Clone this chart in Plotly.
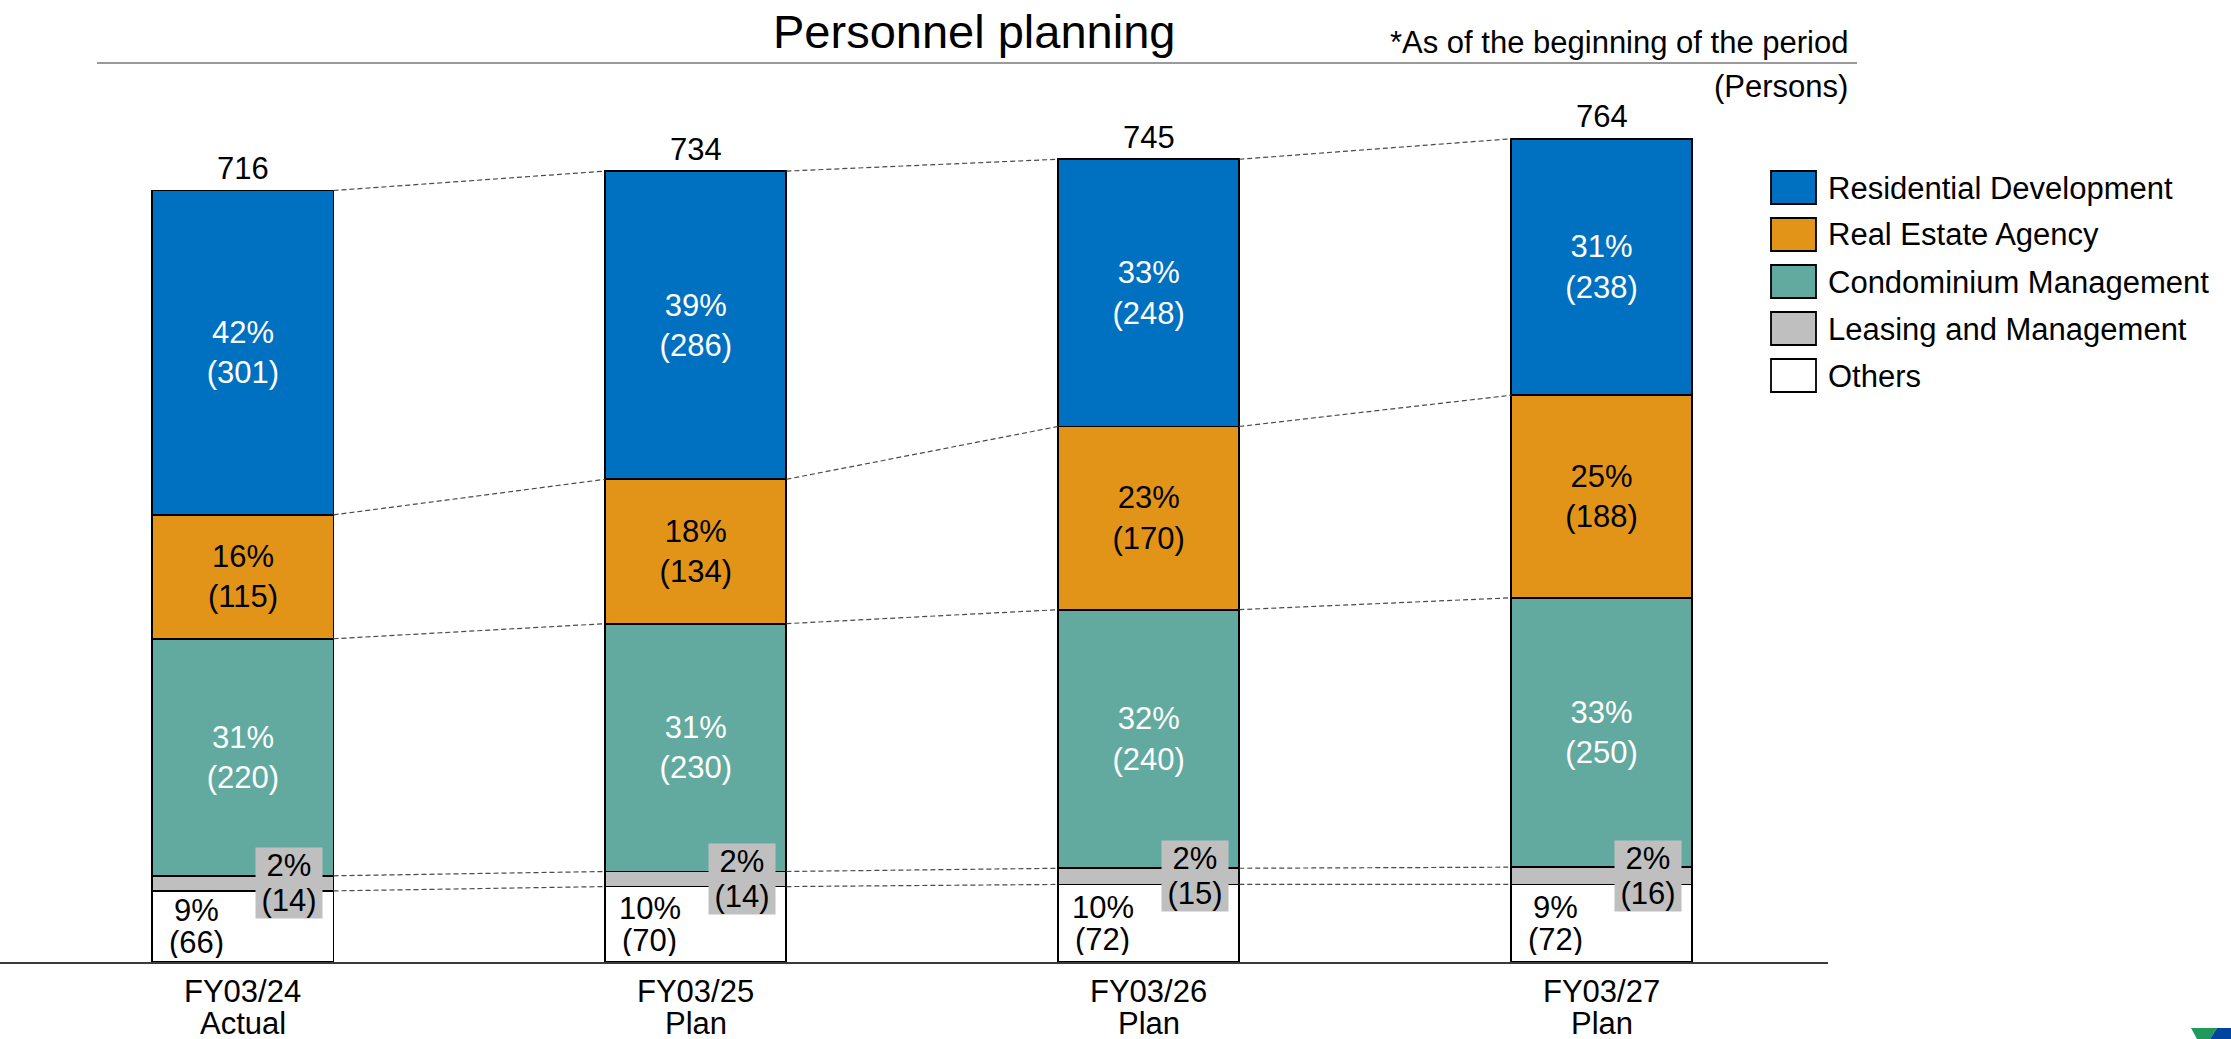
import plotly.graph_objects as go

# ---- data -------------------------------------------------------------
periods = ["FY03/24", "FY03/25", "FY03/26", "FY03/27"]
statuses = ["Actual", "Plan", "Plan", "Plan"]

segment_names = [
    "Residential Development",
    "Real Estate Agency",
    "Condominium Management",
    "Leasing and Management",
    "Others",
]
residential = [301, 286, 248, 238]
real_estate = [115, 134, 170, 188]
condominium = [220, 230, 240, 250]
leasing = [14, 14, 15, 16]
others = [66, 70, 72, 72]

# ---- styling ------------------------------------------------------------
FONT = "Liberation Sans, Arial, sans-serif"
FS = 31
W, H = 2231, 1039
ML, MR, MT, MB = 0, 403, 100, 77
PW, PH = W - ML - MR, H - MT - MB
BAR_W = 0.4
X_RANGE = [-0.5364, 3.5]
Y_RANGE = [0, 800]

seg_colors = {
    "Residential Development": "#0070C0",
    "Real Estate Agency": "#E29419",
    "Condominium Management": "#62AAA0",
    "Leasing and Management": "#BFBFBF",
    "Others": "#FFFFFF",
}
text_colors = {
    "Residential Development": "white",
    "Real Estate Agency": "black",
    "Condominium Management": "white",
}

series = {
    "Residential Development": residential,
    "Real Estate Agency": real_estate,
    "Condominium Management": condominium,
    "Leasing and Management": leasing,
    "Others": others,
}
stack_order = list(reversed(segment_names))  # bottom to top
xs = list(range(len(periods)))
totals = [sum(series[n][i] for n in segment_names) for i in xs]


def px_to_paper_x(px):
    return (px - ML) / PW


def px_to_paper_y(py):
    return (H - MB - py) / PH


fig = go.Figure()

# stacked bars
for name in stack_order:
    vals = series[name]
    pct = [round(v / t * 100) for v, t in zip(vals, totals)]
    labelled = name in text_colors
    fig.add_trace(go.Bar(
        x=xs, y=vals, name=name, width=BAR_W,
        marker=dict(color=seg_colors[name], line=dict(color="black", width=1.8)),
        text=[f"{p}%<br>({v})" for p, v in zip(pct, vals)] if labelled else None,
        textposition="inside" if labelled else "none",
        insidetextanchor="middle",
        textangle=0,
        textfont=dict(family=FONT, size=FS, color=text_colors.get(name, "black")),
        showlegend=False,
        hoverinfo="skip",
    ))

# dashed connectors between neighbouring bars at every segment boundary
cx, cy = [], []
levels = []
for i in xs:
    acc, row = 0, []
    for name in stack_order:
        acc += series[name][i]
        row.append(acc)
    levels.append(row)
for k in range(len(stack_order)):
    for i in xs[:-1]:
        cx += [i + BAR_W / 2, i + 1 - BAR_W / 2, None]
        cy += [levels[i][k], levels[i + 1][k], None]
fig.add_trace(go.Scatter(
    x=cx, y=cy, mode="lines",
    line=dict(color="#4a4a4a", width=1.2, dash="5px,3px"),
    showlegend=False, hoverinfo="skip",
))

annotations = []

# totals above bars
for i, t in zip(xs, totals):
    annotations.append(dict(
        x=i, y=t, xref="x", yref="y", text=str(t), showarrow=False,
        yanchor="middle", yshift=22, font=dict(family=FONT, size=FS, color="black"),
    ))

# "Others" labels, left of centre, two lines
for i in xs:
    v = others[i]
    p = round(v / totals[i] * 100)
    mid = v / 2
    for txt, dy in ((f"{p}%", 16), (f"({v})", -16)):
        annotations.append(dict(
            x=i, y=mid, xref="x", yref="y", text=txt, showarrow=False,
            xshift=-46, yshift=dy, yanchor="middle", height=31,
            font=dict(family=FONT, size=FS, color="black"),
        ))

# "Leasing and Management" labels in grey boxes, right of centre
for i in xs:
    v = leasing[i]
    p = round(v / totals[i] * 100)
    mid = others[i] + v / 2
    for txt, dy in ((f"{p}%", 17.5), (f"({v})", -17.5)):
        annotations.append(dict(
            x=i, y=mid, xref="x", yref="y", text=txt, showarrow=False,
            xshift=46, yshift=dy, yanchor="middle", width=66, height=35,
            bgcolor=seg_colors["Leasing and Management"], borderpad=0,
            font=dict(family=FONT, size=FS, color="black"),
        ))

# category labels under the axis
for i, per, st in zip(xs, periods, statuses):
    annotations.append(dict(
        x=i, y=0, xref="x", yref="paper", text=per, showarrow=False,
        yanchor="middle", yshift=-29, height=30,
        font=dict(family=FONT, size=FS, color="black"),
    ))
    annotations.append(dict(
        x=i, y=0, xref="x", yref="paper", text=st, showarrow=False,
        yanchor="middle", yshift=-61, height=30,
        font=dict(family=FONT, size=FS, color="black"),
    ))

# header texts
annotations.append(dict(
    x=px_to_paper_x(974), y=px_to_paper_y(31), xref="paper", yref="paper",
    text="Personnel planning", showarrow=False, xanchor="center", yanchor="middle",
    font=dict(family=FONT, size=47, color="black"),
))
annotations.append(dict(
    x=px_to_paper_x(1850), y=px_to_paper_y(42), xref="paper", yref="paper",
    text="*As of the beginning of the period", showarrow=False,
    xanchor="right", yanchor="middle", font=dict(family=FONT, size=FS, color="black"),
))
annotations.append(dict(
    x=px_to_paper_x(1850), y=px_to_paper_y(86), xref="paper", yref="paper",
    text="(Persons)", showarrow=False,
    xanchor="right", yanchor="middle", font=dict(family=FONT, size=FS, color="black"),
))

shapes = [
    # rule under the title
    dict(type="line", xref="paper", yref="paper",
         x0=px_to_paper_x(97), x1=px_to_paper_x(1857),
         y0=px_to_paper_y(63), y1=px_to_paper_y(63),
         line=dict(color="#9a9a9a", width=2)),
]

# legend: large swatches with names
for k, name in enumerate(segment_names):
    top = 171 + 47 * k
    shapes.append(dict(
        type="rect", xref="paper", yref="paper",
        x0=px_to_paper_x(1771), x1=px_to_paper_x(1816),
        y0=px_to_paper_y(top + 33), y1=px_to_paper_y(top),
        fillcolor=seg_colors[name], line=dict(color="black", width=1.8),
    ))
    annotations.append(dict(
        x=px_to_paper_x(1826), y=px_to_paper_y(top + 17), xref="paper", yref="paper",
        text=name, showarrow=False, xanchor="left", yanchor="middle",
        font=dict(family=FONT, size=FS, color="black"),
    ))

# corner logo fragment
def poly(pts):
    return "M " + " L ".join(f"{px_to_paper_x(a):.5f},{px_to_paper_y(b):.5f}" for a, b in pts) + " Z"

shapes.append(dict(type="path", xref="paper", yref="paper",
                   path=poly([(2191, 1028), (2217, 1028), (2210, 1039), (2197, 1039)]),
                   fillcolor="#1E9A5A", line=dict(width=0)))
shapes.append(dict(type="path", xref="paper", yref="paper",
                   path=poly([(2217, 1028), (2231, 1028), (2231, 1039), (2210, 1039)]),
                   fillcolor="#0046A0", line=dict(width=0)))

fig.update_layout(
    width=W, height=H,
    margin=dict(l=ML, r=MR, t=MT, b=MB),
    paper_bgcolor="white", plot_bgcolor="white",
    barmode="stack",
    font=dict(family=FONT, size=FS, color="black"),
    xaxis=dict(range=X_RANGE, showgrid=False, zeroline=False, showticklabels=False,
               ticks="", showline=True, linecolor="#3a3a3a", linewidth=2, fixedrange=True),
    yaxis=dict(range=Y_RANGE, visible=False, fixedrange=True),
    annotations=annotations,
    shapes=shapes,
    showlegend=False,
    uniformtext=dict(mode=False),
)

fig.write_html("out.html")
